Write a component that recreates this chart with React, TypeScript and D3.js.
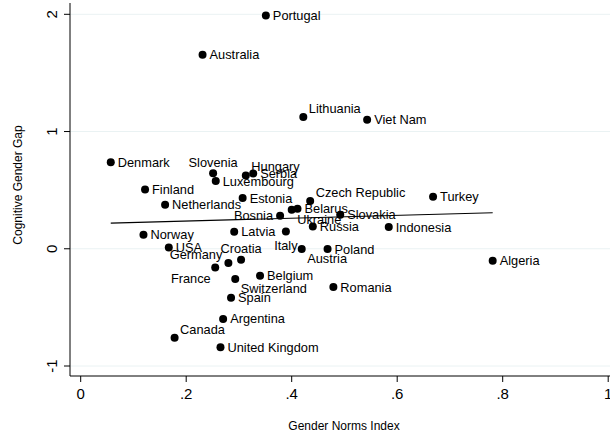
import React from 'react';
import * as d3 from 'd3';

const countries = [
  'Portugal', 'Australia', 'Lithuania', 'Viet Nam', 'Denmark', 'Slovenia', 'Hungary', 'Serbia',
  'Luxembourg', 'Finland', 'Estonia', 'Netherlands', 'Czech Republic', 'Ukraine', 'Belarus', 'Bosnia',
  'Slovakia', 'Turkey', 'Russia', 'Indonesia', 'Norway', 'Latvia', 'Italy', 'USA', 'Austria', 'Poland',
  'Algeria', 'Croatia', 'Germany', 'France', 'Switzerland', 'Belgium', 'Romania', 'Spain', 'Argentina',
  'Canada', 'United Kingdom',
];
const normsIndex = [
  0.351, 0.231, 0.422, 0.543, 0.057, 0.251, 0.313, 0.327,
  0.256, 0.122, 0.307, 0.160, 0.435, 0.400, 0.411, 0.378,
  0.492, 0.668, 0.440, 0.584, 0.119, 0.291, 0.389, 0.167, 0.419, 0.468,
  0.781, 0.304, 0.280, 0.255, 0.293, 0.340, 0.479, 0.285, 0.270,
  0.178, 0.265,
];
const genderGap = [
  1.989, 1.654, 1.123, 1.100, 0.739, 0.645, 0.625, 0.642,
  0.577, 0.506, 0.432, 0.375, 0.407, 0.332, 0.341, 0.281,
  0.290, 0.443, 0.190, 0.185, 0.119, 0.145, 0.147, 0.011, -0.003, -0.003,
  -0.102, -0.094, -0.122, -0.159, -0.258, -0.230, -0.327, -0.418, -0.599,
  -0.759, -0.841,
];
const xTicks = [0, 0.2, 0.4, 0.6, 0.8, 1];
const xTickLabels = ['0', '.2', '.4', '.6', '.8', '1'];
const yTicks = [-1, 0, 1, 2];
const yTickLabels = ['-1', '0', '1', '2'];
const xTitle = 'Gender Norms Index';
const yTitle = 'Cognitive Gender Gap';

// marker-label clock positions (style), default 3 o'clock
const labelClock: Record<string, number> = {
  Lithuania: 1, Slovenia: 12, Hungary: 1, 'Czech Republic': 1, Bosnia: 9, Ukraine: 5,
  Italy: 6, Austria: 5, Croatia: 12, Germany: 11, France: 7, Switzerland: 5, Canada: 1,
};
const clockStyle: Record<number, { anchor: string; dx: number; dy: number }> = {
  3: { anchor: 'start', dx: 7, dy: 0 },
  9: { anchor: 'end', dx: -7, dy: 0 },
  12: { anchor: 'middle', dx: 0, dy: -11 },
  6: { anchor: 'middle', dx: 0, dy: 13.5 },
  1: { anchor: 'start', dx: 5.5, dy: -8.7 },
  5: { anchor: 'start', dx: 5.5, dy: 9.7 },
  11: { anchor: 'end', dx: -6, dy: -9 },
  7: { anchor: 'end', dx: -4.5, dy: 11 },
};

const W = 610;
const H = 436;
const FONT = '"Liberation Sans", Arial, sans-serif';

export default function App() {
  const x = d3.scaleLinear().domain([0, 1]).range([80.7, 608.2]);
  const y = d3.scaleLinear().domain([-1, 2]).range([366, 14.3]);
  const axisLeft = 70;
  const axisBottom = 376;
  const axisTop = 3;

  const pts = countries.map((c, i) => ({ c, x: normsIndex[i], y: genderGap[i] }));
  const mx = d3.mean(pts, (d) => d.x) as number;
  const my = d3.mean(pts, (d) => d.y) as number;
  const sxy = d3.sum(pts, (d) => (d.x - mx) * (d.y - my));
  const sxx = d3.sum(pts, (d) => (d.x - mx) * (d.x - mx));
  const slope = sxy / sxx;
  const intercept = my - slope * mx;
  const [x0, x1] = d3.extent(pts, (d) => d.x) as [number, number];
  const fitLine = d3.line<number>().x((d) => x(d)).y((d) => y(intercept + slope * d));

  return (
    <svg width={W} height={H} style={{ position: 'absolute', left: 0, top: 0, background: '#fff' }} fontFamily={FONT}>
      <rect x={0} y={0} width={W} height={H} fill="#ffffff" />
      {yTicks.map((t) => (
        <line key={'g' + t} x1={axisLeft} x2={W} y1={y(t)} y2={y(t)} stroke="#eaf2f3" strokeWidth={1} />
      ))}
      <line x1={axisLeft} x2={axisLeft} y1={axisTop} y2={axisBottom} stroke="#000" strokeWidth={1} />
      <line x1={axisLeft} x2={W} y1={axisBottom} y2={axisBottom} stroke="#000" strokeWidth={1} />
      {yTicks.map((t, i) => (
        <g key={'yt' + t}>
          <line x1={axisLeft - 6} x2={axisLeft} y1={y(t)} y2={y(t)} stroke="#000" strokeWidth={1} />
          <text
            transform={`translate(${51},${y(t)}) rotate(-90)`}
            textAnchor="middle"
            dominantBaseline="central"
            fontSize={15}
            fill="#000"
          >
            {yTickLabels[i]}
          </text>
        </g>
      ))}
      {xTicks.map((t, i) => (
        <g key={'xt' + t}>
          <line x1={x(t)} x2={x(t)} y1={axisBottom} y2={axisBottom + 6} stroke="#000" strokeWidth={1} />
          <text x={x(t)} y={393} textAnchor="middle" dominantBaseline="central" fontSize={15} fill="#000">
            {xTickLabels[i]}
          </text>
        </g>
      ))}
      <text x={344} y={425.5} textAnchor="middle" dominantBaseline="central" fontSize={12} fill="#000">
        {xTitle}
      </text>
      <text transform={`translate(18,185) rotate(-90)`} textAnchor="middle" dominantBaseline="central" fontSize={12} fill="#000">
        {yTitle}
      </text>
      {pts.map((d) => (
        <circle key={'c' + d.c} cx={x(d.x)} cy={y(d.y)} r={4} fill="#000" />
      ))}
      {pts.map((d) => {
        const s = clockStyle[labelClock[d.c] ?? 3];
        return (
          <text
            key={'l' + d.c}
            x={x(d.x) + s.dx}
            y={y(d.y) + s.dy}
            textAnchor={s.anchor}
            dominantBaseline="central"
            fontSize={12.8}
            fill="#000"
          >
            {d.c}
          </text>
        );
      })}
      <path d={fitLine([x0, x1]) as string} fill="none" stroke="#000" strokeWidth={1.2} />
    </svg>
  );
}
